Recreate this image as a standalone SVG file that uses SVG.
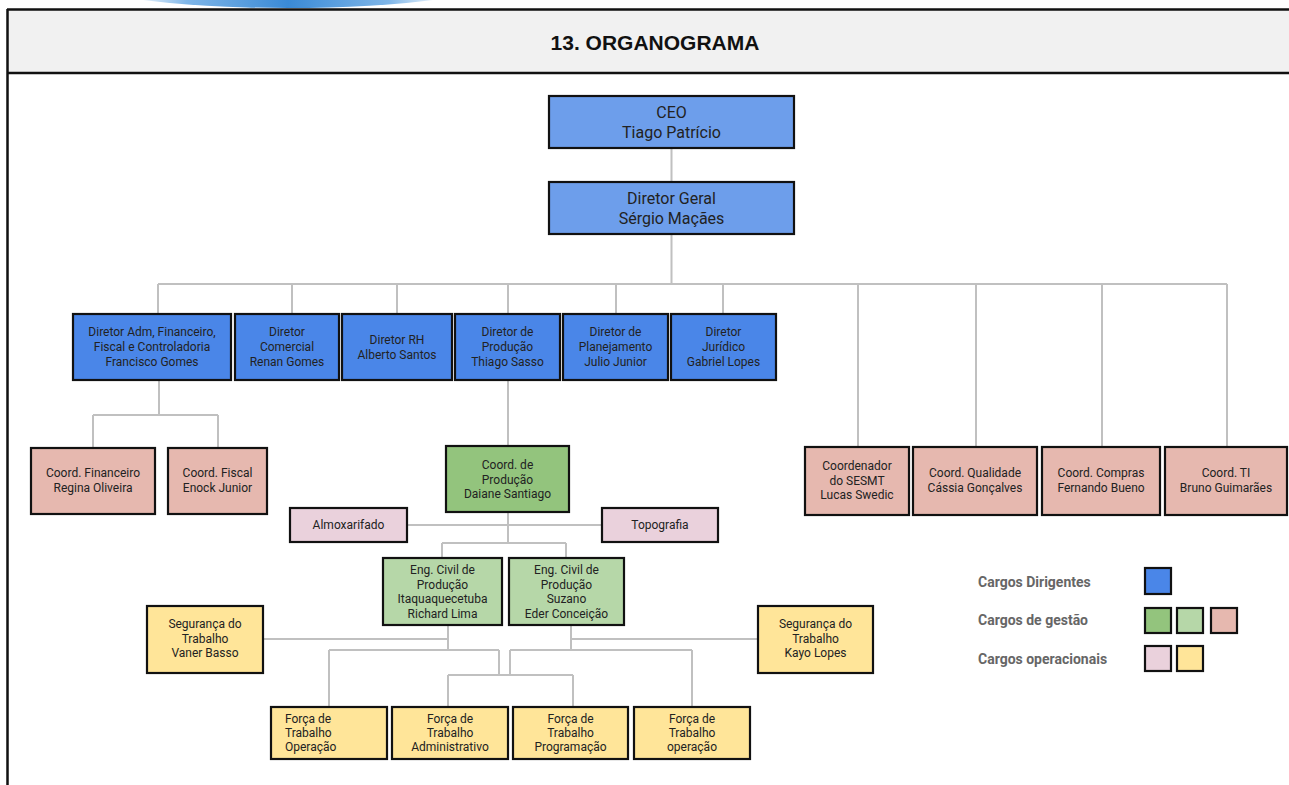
<svg xmlns="http://www.w3.org/2000/svg" width="1289" height="785" viewBox="0 0 1289 785">
<style>
.n{stroke:#111;stroke-width:2.2}
.b1{fill:#6d9eeb}.b2{fill:#4a86e8}.g1{fill:#93c47d}.g2{fill:#b6d7a8}.r{fill:#e6b8af}.p{fill:#ead1dc}.y{fill:#ffe599}
text{font-family:Roboto,"Liberation Sans",sans-serif;fill:#222;text-anchor:middle;font-size:12px}
.big{font-size:16px}
.lg{font-weight:bold;font-size:14px;fill:#666;text-anchor:start}
.hd{font-family:"Liberation Sans",Arial,sans-serif;font-weight:bold;font-size:21px;fill:#111}
.c{fill:none;stroke:#c0c0c0;stroke-width:2}
</style>
<defs>
<linearGradient id="arc" gradientUnits="userSpaceOnUse" x1="130" y1="0" x2="446" y2="0">
<stop offset="0" stop-color="#ffffff"/>
<stop offset="0.18" stop-color="#7fb6e8"/>
<stop offset="0.5" stop-color="#3a8ad6"/>
<stop offset="0.82" stop-color="#7fb6e8"/>
<stop offset="1" stop-color="#ffffff"/>
</linearGradient>
</defs>
<rect width="1289" height="785" fill="#fff"/>
<ellipse cx="288" cy="-22" rx="213" ry="30" fill="url(#arc)"/>
<rect x="8" y="9.5" width="1285" height="63" fill="#f1f1f1"/>
<path d="M7 9.5H1289M7 73H1289M7.5 9V785" stroke="#111" stroke-width="2.5" fill="none"/>
<text class="hd" x="655" y="50">13. ORGANOGRAMA</text>

<g id="connectors">
<path class="c" d="M671.5 148V182M671.5 234V284M158 284H1227"/>
<path class="c" d="M158 284V314M292 284V314M397 284V314M508 284V314M616 284V314M723 284V314"/>
<path class="c" d="M858 284V447M976 284V447M1102 284V447M1227 284V447"/>
<path class="c" d="M159 380V415M93 415H218M93 415V448M218 415V448"/>
<path class="c" d="M508 380V446M508 512V543M407 525H602M442 543H566M442 543V558M566 543V558"/>
<path class="c" d="M448 625V650M263 639H448M329 650H499M329 650V707M499 650V675"/>
<path class="c" d="M571 625V650M571 639H758M510 650H692M692 650V707M510 650V675"/>
<path class="c" d="M448 675H573M448 675V707M573 675V707"/>
</g>

<g id="ceo"><rect class="n b1" x="549" y="96" width="245" height="52"/><text class="big" x="671.5" y="118">CEO</text><text class="big" x="671.5" y="138">Tiago Patrício</text></g>
<g id="diretor-geral"><rect class="n b1" x="549" y="182" width="245" height="52"/><text class="big" x="671.5" y="204">Diretor Geral</text><text class="big" x="671.5" y="224">Sérgio Maçães</text></g>

<g id="dir-adm"><rect class="n b2" x="73" y="314" width="158" height="66"/><text x="152" y="336">Diretor Adm, Financeiro,</text><text x="152" y="351">Fiscal e Controladoria</text><text x="152" y="366">Francisco Gomes</text></g>
<g id="dir-comercial"><rect class="n b2" x="235" y="314" width="104" height="66"/><text x="287" y="336">Diretor</text><text x="287" y="351">Comercial</text><text x="287" y="366">Renan Gomes</text></g>
<g id="dir-rh"><rect class="n b2" x="342" y="314" width="110" height="66"/><text x="397" y="344">Diretor RH</text><text x="397" y="358.5">Alberto Santos</text></g>
<g id="dir-producao"><rect class="n b2" x="455" y="314" width="105" height="66"/><text x="507.5" y="336">Diretor de</text><text x="507.5" y="351">Produção</text><text x="507.5" y="366">Thiago Sasso</text></g>
<g id="dir-planejamento"><rect class="n b2" x="563" y="314" width="105" height="66"/><text x="615.5" y="336">Diretor de</text><text x="615.5" y="351">Planejamento</text><text x="615.5" y="366">Julio Junior</text></g>
<g id="dir-juridico"><rect class="n b2" x="671" y="314" width="105" height="66"/><text x="723.5" y="336">Diretor</text><text x="723.5" y="351">Jurídico</text><text x="723.5" y="366">Gabriel Lopes</text></g>

<g id="coord-financeiro"><rect class="n r" x="31" y="448" width="124" height="66"/><text x="93" y="477">Coord. Financeiro</text><text x="93" y="492">Regina Oliveira</text></g>
<g id="coord-fiscal"><rect class="n r" x="168" y="448" width="99" height="66"/><text x="217.5" y="477">Coord. Fiscal</text><text x="217.5" y="492">Enock Junior</text></g>

<g id="coord-sesmt"><rect class="n r" x="805" y="447" width="104" height="68"/><text x="857" y="470">Coordenador</text><text x="857" y="484.5">do SESMT</text><text x="857" y="499">Lucas Swedic</text></g>
<g id="coord-qualidade"><rect class="n r" x="913" y="447" width="124" height="68"/><text x="975" y="477">Coord. Qualidade</text><text x="975" y="492">Cássia Gonçalves</text></g>
<g id="coord-compras"><rect class="n r" x="1042" y="447" width="118" height="68"/><text x="1101" y="477">Coord. Compras</text><text x="1101" y="492">Fernando Bueno</text></g>
<g id="coord-ti"><rect class="n r" x="1165" y="447" width="122" height="68"/><text x="1226" y="477">Coord. TI</text><text x="1226" y="492">Bruno Guimarães</text></g>

<g id="coord-producao"><rect class="n g1" x="446" y="446" width="123" height="66"/><text x="507.5" y="469">Coord. de</text><text x="507.5" y="483.5">Produção</text><text x="507.5" y="498">Daiane Santiago</text></g>
<g id="almoxarifado"><rect class="n p" x="290" y="508" width="117" height="34"/><text x="348.5" y="529">Almoxarifado</text></g>
<g id="topografia"><rect class="n p" x="602" y="508" width="116" height="34"/><text x="660" y="529">Topografia</text></g>

<g id="eng-itaqua"><rect class="n g2" x="383" y="558" width="119" height="67"/><text x="442.5" y="574">Eng. Civil de</text><text x="442.5" y="588.5">Produção</text><text x="442.5" y="603">Itaquaquecetuba</text><text x="442.5" y="617.5">Richard Lima</text></g>
<g id="eng-suzano"><rect class="n g2" x="509" y="558" width="115" height="67"/><text x="566.5" y="574">Eng. Civil de</text><text x="566.5" y="588.5">Produção</text><text x="566.5" y="603">Suzano</text><text x="566.5" y="617.5">Eder Conceição</text></g>

<g id="seg-vaner"><rect class="n y" x="147" y="606" width="116" height="67"/><text x="205" y="628">Segurança do</text><text x="205" y="643">Trabalho</text><text x="205" y="657">Vaner Basso</text></g>
<g id="seg-kayo"><rect class="n y" x="758" y="606" width="115" height="67"/><text x="815.5" y="628">Segurança do</text><text x="815.5" y="643">Trabalho</text><text x="815.5" y="657">Kayo Lopes</text></g>

<g id="forca-operacao"><rect class="n y" x="271" y="707" width="116" height="52"/><text x="285" y="723" style="text-anchor:start">Força de</text><text x="285" y="737" style="text-anchor:start">Trabalho</text><text x="285" y="751" style="text-anchor:start">Operação</text></g>
<g id="forca-administrativo"><rect class="n y" x="392" y="707" width="116" height="52"/><text x="450" y="723">Força de</text><text x="450" y="737">Trabalho</text><text x="450" y="751">Administrativo</text></g>
<g id="forca-programacao"><rect class="n y" x="513" y="707" width="115" height="52"/><text x="570.5" y="723">Força de</text><text x="570.5" y="737">Trabalho</text><text x="570.5" y="751">Programação</text></g>
<g id="forca-operacao2"><rect class="n y" x="634" y="707" width="116" height="52"/><text x="692" y="723">Força de</text><text x="692" y="737">Trabalho</text><text x="692" y="751">operação</text></g>

<g id="legend">
<text class="lg" x="978" y="587">Cargos Dirigentes</text>
<text class="lg" x="978" y="625">Cargos de gestão</text>
<text class="lg" x="978" y="664">Cargos operacionais</text>
<rect class="n b2" x="1145" y="568" width="26" height="26"/>
<rect class="n g1" x="1145" y="608" width="26" height="25"/>
<rect class="n g2" x="1177" y="608" width="26" height="25"/>
<rect class="n r" x="1211" y="608" width="26" height="25"/>
<rect class="n p" x="1145" y="646" width="26" height="25"/>
<rect class="n y" x="1177" y="646" width="26" height="25"/>
</g>
</svg>
